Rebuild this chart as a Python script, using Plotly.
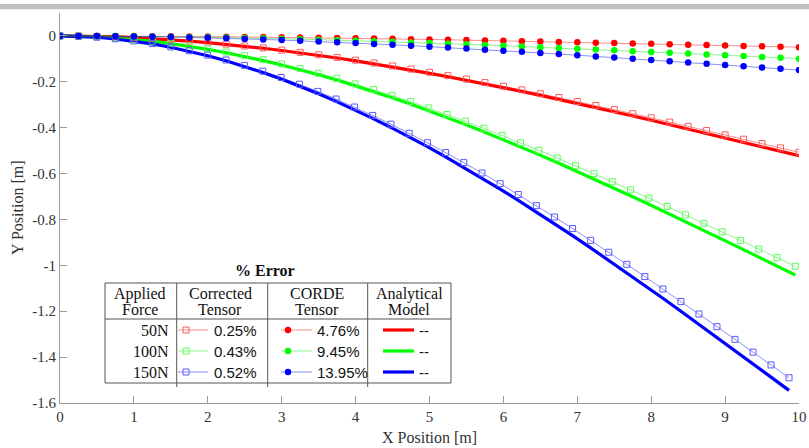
import plotly.graph_objects as go

# ---------------- data ----------------
x_s = [0, 0.25, 0.5, 0.75, 1.0, 1.25, 1.5, 1.75, 2.0, 2.25, 2.5, 2.75, 3.0, 3.25, 3.5, 3.75,
       4.0, 4.25, 4.5, 4.75, 5.0, 5.25, 5.5, 5.75, 6.0, 6.25, 6.5, 6.75, 7.0, 7.25, 7.5, 7.75,
       8.0, 8.25, 8.5, 8.75, 9.0, 9.25, 9.5, 9.75, 10.0]
x_100 = [0, 0.25, 0.5, 0.75, 1.0, 1.25, 1.5, 1.75, 1.999, 2.249, 2.498, 2.748, 2.997, 3.247, 3.496, 3.745,
         3.994, 4.243, 4.492, 4.741, 4.990, 5.238, 5.487, 5.735, 5.984, 6.232, 6.480, 6.728, 6.976, 7.224,
         7.472, 7.720, 7.968, 8.216, 8.464, 8.712, 8.959, 9.207, 9.455, 9.703, 9.950]
x_150 = [0, 0.25, 0.5, 0.75, 1.0, 1.249, 1.499, 1.748, 1.998, 2.246, 2.495, 2.744, 2.993, 3.241, 3.489, 3.736,
         3.984, 4.231, 4.478, 4.725, 4.972, 5.218, 5.464, 5.710, 5.956, 6.201, 6.446, 6.691, 6.936, 7.181,
         7.425, 7.670, 7.914, 8.158, 8.402, 8.646, 8.890, 9.134, 9.378, 9.621, 9.865]

ana_50 = [0, -0.0005, -0.0019, -0.0043, -0.0076, -0.0117, -0.0167, -0.0226, -0.0292, -0.0367, -0.0449,
          -0.0538, -0.0634, -0.0737, -0.0847, -0.0963, -0.1086, -0.1214, -0.1348, -0.1487, -0.1631,
          -0.1781, -0.1934, -0.2093, -0.2255, -0.2421, -0.2591, -0.2765, -0.2941, -0.3121, -0.3303,
          -0.3488, -0.3675, -0.3864, -0.4054, -0.4246, -0.4440, -0.4634, -0.4829, -0.5024, -0.522]
cor_50 = [0, -0.0005, -0.0019, -0.0042, -0.0074, -0.0114, -0.0163, -0.0219, -0.0284, -0.0356, -0.0436,
          -0.0522, -0.0616, -0.0716, -0.0823, -0.0936, -0.1055, -0.1179, -0.1309, -0.1444, -0.1584,
          -0.1729, -0.1879, -0.2033, -0.2190, -0.2352, -0.2517, -0.2685, -0.2857, -0.3031, -0.3208,
          -0.3388, -0.3569, -0.3753, -0.3938, -0.4124, -0.4312, -0.4501, -0.4690, -0.4880, -0.507]
corde_50 = [0, 0, -0.0002, -0.0004, -0.0007, -0.0011, -0.0016, -0.0021, -0.0027, -0.0034, -0.0042,
            -0.0050, -0.0060, -0.0069, -0.0080, -0.0090, -0.0102, -0.0114, -0.0127, -0.0140, -0.0153,
            -0.0167, -0.0182, -0.0196, -0.0212, -0.0227, -0.0243, -0.0260, -0.0276, -0.0293, -0.0310,
            -0.0327, -0.0345, -0.0363, -0.0381, -0.0399, -0.0417, -0.0435, -0.0453, -0.0472, -0.049]

ana_100 = [0, -0.0010, -0.0038, -0.0086, -0.0151, -0.0234, -0.0334, -0.0451, -0.0584, -0.0732, -0.0895,
           -0.1074, -0.1266, -0.1472, -0.1691, -0.1923, -0.2167, -0.2423, -0.2690, -0.2968, -0.3256,
           -0.3554, -0.3861, -0.4177, -0.4501, -0.4834, -0.5173, -0.5519, -0.5872, -0.6230, -0.6594,
           -0.6963, -0.7336, -0.7713, -0.8093, -0.8476, -0.8862, -0.9250, -0.9639, -1.0029, -1.042]
cor_100 = [0, -0.0009, -0.0037, -0.0083, -0.0146, -0.0225, -0.0322, -0.0434, -0.0562, -0.0705, -0.0863,
           -0.1035, -0.1220, -0.1418, -0.1630, -0.1853, -0.2088, -0.2335, -0.2592, -0.2860, -0.3138,
           -0.3425, -0.3720, -0.4025, -0.4337, -0.4657, -0.4984, -0.5318, -0.5658, -0.6003, -0.6353,
           -0.6709, -0.7068, -0.7431, -0.7798, -0.8167, -0.8539, -0.8913, -0.9288, -0.9664, -1.004]
corde_100 = [0, -0.0001, -0.0004, -0.0008, -0.0014, -0.0022, -0.0032, -0.0043, -0.0055, -0.0070, -0.0085,
             -0.0102, -0.0120, -0.0140, -0.0161, -0.0183, -0.0206, -0.0230, -0.0256, -0.0282, -0.0309,
             -0.0338, -0.0367, -0.0397, -0.0428, -0.0459, -0.0491, -0.0524, -0.0558, -0.0592, -0.0626,
             -0.0662, -0.0697, -0.0733, -0.0769, -0.0805, -0.0842, -0.0879, -0.0916, -0.0953, -0.099]

ana_150 = [0, -0.0014, -0.0057, -0.0127, -0.0224, -0.0347, -0.0495, -0.0668, -0.0865, -0.1085, -0.1328,
           -0.1592, -0.1877, -0.2183, -0.2508, -0.2852, -0.3214, -0.3593, -0.3989, -0.4401, -0.4828,
           -0.5270, -0.5725, -0.6194, -0.6674, -0.7167, -0.7670, -0.8183, -0.8706, -0.9238, -0.9777,
           -1.0324, -1.0877, -1.1436, -1.2000, -1.2568, -1.3140, -1.3715, -1.4292, -1.4871, -1.545]
cor_150 = [0, -0.0014, -0.0055, -0.0123, -0.0216, -0.0335, -0.0478, -0.0645, -0.0834, -0.1047, -0.1281,
           -0.1535, -0.1810, -0.2105, -0.2418, -0.2750, -0.3099, -0.3465, -0.3847, -0.4244, -0.4656,
           -0.5082, -0.5521, -0.5973, -0.6437, -0.6912, -0.7397, -0.7892, -0.8396, -0.8909, -0.9429,
           -0.9956, -1.0490, -1.1029, -1.1573, -1.2121, -1.2672, -1.3227, -1.3783, -1.4341, -1.49]
corde_150 = [0, -0.0001, -0.0005, -0.0012, -0.0022, -0.0033, -0.0048, -0.0064, -0.0083, -0.0105, -0.0128,
             -0.0154, -0.0181, -0.0210, -0.0242, -0.0275, -0.0310, -0.0347, -0.0385, -0.0424, -0.0466,
             -0.0508, -0.0552, -0.0597, -0.0644, -0.0691, -0.0740, -0.0789, -0.0840, -0.0891, -0.0943,
             -0.0996, -0.1049, -0.1103, -0.1157, -0.1212, -0.1267, -0.1323, -0.1378, -0.1434, -0.149]

forces = ["50N", "100N", "150N"]
err_corrected = ["0.25%", "0.43%", "0.52%"]
err_corde = ["4.76%", "9.45%", "13.95%"]
err_analytical = ["--", "--", "--"]

x_ticks = [0, 1, 2, 3, 4, 5, 6, 7, 8, 9, 10]
y_ticks = [0, -0.2, -0.4, -0.6, -0.8, -1.0, -1.2, -1.4, -1.6]
y_tick_text = ["0", "-0.2", "-0.4", "-0.6", "-0.8", "-1", "-1.2", "-1.4", "-1.6"]

# ---------------- styles ----------------
pure_line = ["#ff0000", "#00ff00", "#0000ff"]
sq_col = ["#ff5a5a", "#5aff5a", "#5a5aff"]
thin_col = ["rgba(255,0,0,0.45)", "rgba(0,230,0,0.45)", "rgba(0,0,255,0.45)"]
SERIF = "Liberation Serif, Times New Roman, serif"
SANS = "Liberation Sans, Arial, sans-serif"
TXT = "#333333"
AX = "#9a9a9a"

fig = go.Figure()

series = [
    (x_s, ana_50, cor_50, corde_50),
    (x_100, ana_100, cor_100, corde_100),
    (x_150, ana_150, cor_150, corde_150),
]

for i, (xx, a, c, d) in enumerate(series):
    fig.add_trace(go.Scatter(x=xx, y=a, mode="lines",
                             line=dict(color=pure_line[i], width=3.2), hoverinfo="skip"))
for i, (xx, a, c, d) in enumerate(series):
    fig.add_trace(go.Scatter(x=xx, y=c, mode="lines+markers",
                             line=dict(color=thin_col[i], width=1),
                             marker=dict(symbol="square-open", size=6,
                                         color=sq_col[i], line=dict(width=1, color=sq_col[i]))))
for i, (xx, a, c, d) in enumerate(series):
    fig.add_trace(go.Scatter(x=x_s, y=d, mode="lines+markers",
                             line=dict(color=thin_col[i], width=1),
                             marker=dict(symbol="circle", size=6.5, color=pure_line[i])))

# ---------------- legend table (pixel-coordinate overlay axes) ----------------
row_y = [330, 351, 372]
for i in range(3):
    yy = row_y[i]
    fig.add_trace(go.Scatter(x=[178, 208], y=[yy, yy], xaxis="x2", yaxis="y2", mode="lines",
                             line=dict(color=thin_col[i], width=1), hoverinfo="skip"))
    fig.add_trace(go.Scatter(x=[186], y=[yy], xaxis="x2", yaxis="y2", mode="markers",
                             marker=dict(symbol="square-open", size=6, color=sq_col[i],
                                         line=dict(width=1, color=sq_col[i])), hoverinfo="skip"))
    fig.add_trace(go.Scatter(x=[281, 312], y=[yy, yy], xaxis="x2", yaxis="y2", mode="lines",
                             line=dict(color=thin_col[i], width=1), hoverinfo="skip"))
    fig.add_trace(go.Scatter(x=[288], y=[yy], xaxis="x2", yaxis="y2", mode="markers",
                             marker=dict(symbol="circle", size=6.5, color=pure_line[i]), hoverinfo="skip"))
    fig.add_trace(go.Scatter(x=[383, 414], y=[yy, yy], xaxis="x2", yaxis="y2", mode="lines",
                             line=dict(color=pure_line[i], width=3.2), hoverinfo="skip"))

tc = "#555555"
shapes = [
    dict(type="rect", xref="x2", yref="y2", x0=105, x1=451, y0=283, y1=383,
         line=dict(color=tc, width=1)),
    dict(type="line", xref="x2", yref="y2", x0=105, x1=451, y0=319, y1=319,
         line=dict(color=tc, width=1)),
]
for vx in [176.7, 267.7, 367.7]:
    shapes.append(dict(type="line", xref="x2", yref="y2", x0=vx, x1=vx, y0=283, y1=387,
                       line=dict(color=tc, width=1)))
# grey band at the very top
shapes.append(dict(type="rect", xref="paper", yref="paper", x0=-60 / 739, x1=749 / 739,
                   y0=(403 - 9.3) / 390, y1=(403 - 4) / 390, line=dict(width=0),
                   fillcolor="#c0c0c0", layer="above"))

ann = []
def add_text(x, y, t, size=16, fam=SERIF, xa="center", bold=False):
    ann.append(dict(x=x, y=y, xref="x2", yref="y2", text=("<b>%s</b>" % t) if bold else t,
                    showarrow=False, xanchor=xa, yanchor="middle",
                    font=dict(family=fam, size=size, color="#111111")))

add_text(265, 270.5, "% Error", size=16, bold=True)
for cx, l1, l2 in [(140, "Applied", "Force"), (220, "Corrected", "Tensor"),
                   (317, "CORDE", "Tensor"), (409, "Analytical", "Model")]:
    add_text(cx, 293.5, l1)
    add_text(cx, 309, l2)
for i in range(3):
    add_text(171, row_y[i], forces[i], xa="right")
    add_text(212, row_y[i], err_corrected[i], size=15, fam=SANS, xa="left")
    add_text(315, row_y[i], err_corde[i], size=15, fam=SANS, xa="left")
    add_text(417, row_y[i], err_analytical[i], size=15, fam=SANS, xa="left")

# axis titles
ann.append(dict(x=0.5, y=0, xref="paper", yref="paper", text="X Position [m]", showarrow=False,
                xanchor="center", yanchor="middle", yshift=-34,
                font=dict(family=SERIF, size=16, color=TXT)))
ann.append(dict(x=0, y=0.5, xref="paper", yref="paper", text="Y Position [m]", showarrow=False,
                xanchor="center", yanchor="middle", xshift=-43, yshift=0, textangle=-90,
                font=dict(family=SERIF, size=16, color=TXT)))

fig.update_layout(
    width=809, height=448,
    margin=dict(l=60, r=10, t=13, b=45),
    paper_bgcolor="white", plot_bgcolor="white",
    showlegend=False,
    shapes=shapes, annotations=ann,
    xaxis=dict(range=[0, 10], tickvals=x_ticks, ticks="inside", ticklen=7, tickcolor=AX,
               showline=True, linecolor=AX, linewidth=1, showgrid=False, zeroline=False,
               automargin=False,
               tickfont=dict(family=SERIF, size=15, color=TXT)),
    yaxis=dict(range=[-1.6, 0.1], tickvals=y_ticks, ticktext=y_tick_text, ticks="inside",
               ticklen=7, tickcolor=AX, showline=True, linecolor=AX, linewidth=1,
               showgrid=False, zeroline=False, automargin=False,
               tickfont=dict(family=SERIF, size=15, color=TXT)),
    xaxis2=dict(range=[60, 799], overlaying="x", anchor="y2", visible=False, fixedrange=True),
    yaxis2=dict(range=[403, 13], overlaying="y", anchor="x2", visible=False, fixedrange=True),
)

fig.write_html("out.html",
               config={"displayModeBar": False, "staticPlot": True},
               post_script="document.body.style.margin='0';document.body.style.padding='0';"
                           "document.body.style.overflow='hidden';")
